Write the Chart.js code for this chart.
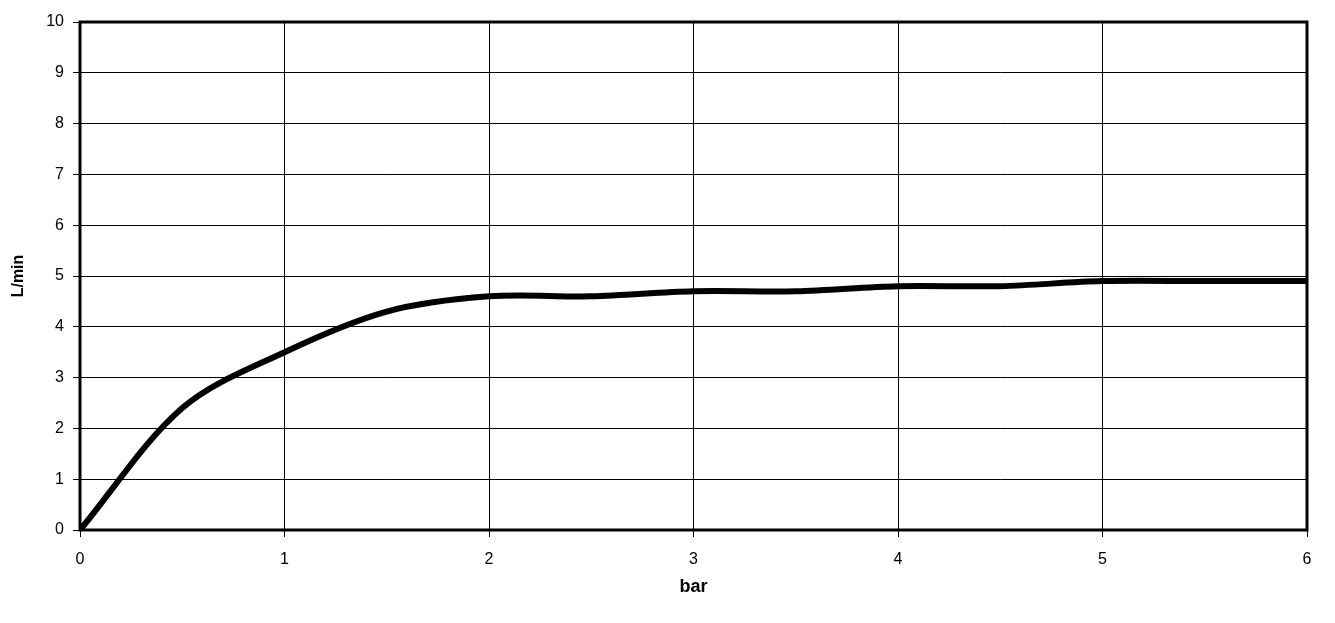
<!DOCTYPE html>
<html>
<head>
<meta charset="utf-8">
<script src="https://cdn.jsdelivr.net/npm/chart.js@4"></script>
<style>
html,body{margin:0;padding:0;background:#fff;}
#wrap{width:1335px;height:623px;position:relative;}
</style>
</head>
<body>
<div id="wrap"><canvas id="c" width="1335" height="623"></canvas></div>
<script>
const pressureBar = [0, 0.5, 1, 1.5, 2, 2.5, 3, 3.5, 4, 4.5, 5, 5.5, 6];
const flowLmin   = [0, 2.4, 3.5, 4.3, 4.6, 4.6, 4.7, 4.7, 4.8, 4.8, 4.9, 4.9, 4.9];
const xTicks = [0, 1, 2, 3, 4, 5, 6];
const yTicks = [0, 1, 2, 3, 4, 5, 6, 7, 8, 9, 10];
const xTitle = 'bar';
const yTitle = 'L/min';

const points = pressureBar.map((x, i) => ({x: x, y: flowLmin[i]}));

const frame = {
  id: 'frame',
  afterDraw(chart) {
    const a = chart.chartArea, ctx = chart.ctx;
    ctx.save();
    ctx.strokeStyle = '#000';
    ctx.lineWidth = 3;
    ctx.strokeRect(a.left, a.top, a.right - a.left, a.bottom - a.top);
    ctx.restore();
  }
};

new Chart(document.getElementById('c'), {
  type: 'line',
  data: {
    datasets: [{
      data: points,
      borderColor: '#000',
      borderWidth: 6,
      pointRadius: 0,
      tension: 0.33,
      fill: false
    }]
  },
  options: {
    responsive: false,
    animation: false,
    layout: {padding: {top: 22, right: 28, left: 0, bottom: 0}},
    plugins: {legend: {display: false}, tooltip: {enabled: false}},
    scales: {
      x: {
        type: 'linear', min: 0, max: 6,
        afterBuildTicks(s) { s.ticks = xTicks.map(v => ({value: v})); },
        afterFit(s) { s.height = 93; },
        grid: {color: '#000', lineWidth: 1, tickLength: 7, drawTicks: true},
        border: {display: false},
        ticks: {color: '#000', padding: 13, font: {family: 'Liberation Sans', size: 16}},
        title: {display: true, text: xTitle, color: '#000', padding: {top: 4, bottom: 25}, font: {family: 'Liberation Sans', size: 18, weight: 'bold'}}
      },
      y: {
        type: 'linear', min: 0, max: 10,
        afterBuildTicks(s) { s.ticks = yTicks.map(v => ({value: v})); },
        afterFit(s) { s.width = 80; },
        grid: {color: '#000', lineWidth: 1, tickLength: 7, drawTicks: true},
        border: {display: false},
        ticks: {color: '#000', padding: 9, font: {family: 'Liberation Sans', size: 16}},
        title: {display: true, text: yTitle, color: '#000', padding: {top: 9, bottom: 0}, font: {family: 'Liberation Sans', size: 16, weight: 'bold'}}
      }
    }
  },
  plugins: [frame]
});
</script>
</body>
</html>
